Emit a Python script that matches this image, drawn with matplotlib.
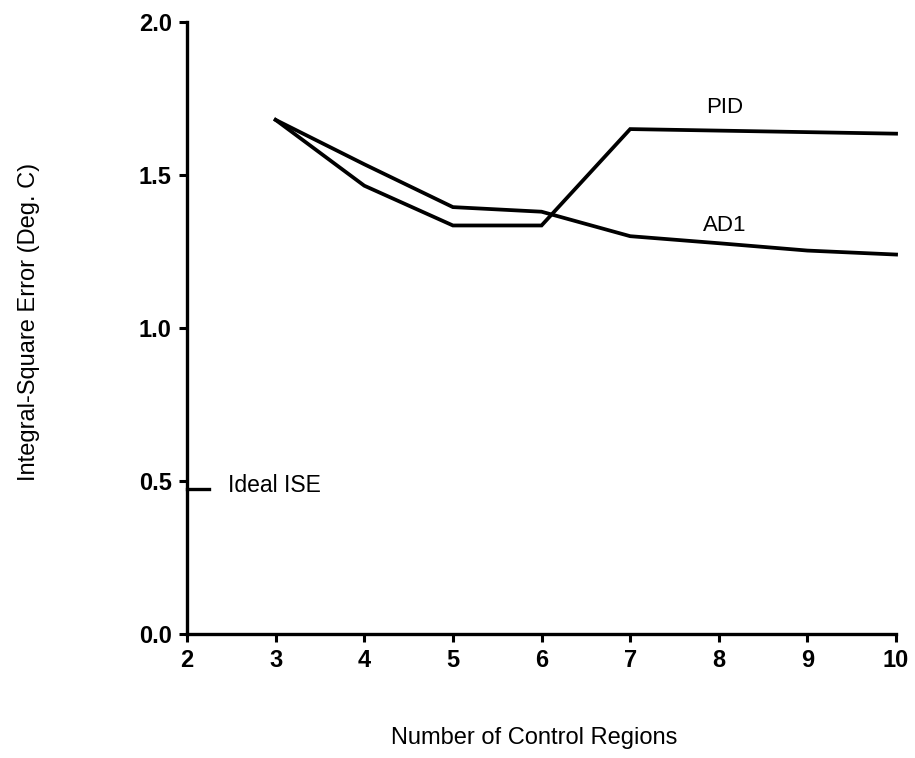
import numpy as np
import matplotlib
matplotlib.use('Agg')
import matplotlib.pyplot as plt

plt.rcParams['font.family'] = ['Liberation Sans', 'DejaVu Sans']

# number of control regions and integral-square error for each controller
regions = [3, 4, 5, 6, 7, 8, 9, 10]
ise_pid = [1.68, 1.465, 1.335, 1.335, 1.65, 1.645, 1.64, 1.635]
ise_ad1 = [1.68, 1.535, 1.395, 1.38, 1.30, 1.277, 1.253, 1.24]
ideal_ise = 0.475

x_ticks = [2, 3, 4, 5, 6, 7, 8, 9, 10]
y_ticks = [0.0, 0.5, 1.0, 1.5, 2.0]

fig = plt.figure(figsize=(9.15, 7.58), dpi=100)
ax = fig.add_axes([0.2044, 0.1636, 0.7749, 0.8074])

ax.plot(regions, ise_pid, color='black', lw=2.7, solid_joinstyle='miter', clip_on=False)
ax.plot(regions, ise_ad1, color='black', lw=2.7, solid_joinstyle='miter', clip_on=False)

# short mark for the ideal ISE level
ax.plot([2, 2.25], [ideal_ise, ideal_ise], color='black', lw=2.4, clip_on=False)
ax.text(2.46, ideal_ise + 0.01, 'Ideal ISE', fontsize=16.5, va='center', ha='left')

ax.text(8.07, 1.72, 'PID', fontsize=16, va='center', ha='center')
ax.text(8.07, 1.335, 'AD1', fontsize=16, va='center', ha='center')

ax.set_xlim(2, 10)
ax.set_ylim(0, 2)
ax.set_xticks(x_ticks)
ax.set_xticklabels([str(v) for v in x_ticks], fontsize=17, fontweight='bold')
ax.set_yticks(y_ticks)
ax.set_yticklabels(['%.1f' % v for v in y_ticks], fontsize=17, fontweight='bold')

for side in ['top', 'right']:
    ax.spines[side].set_visible(False)
for side in ['left', 'bottom']:
    ax.spines[side].set_linewidth(2.4)
    ax.spines[side].set_capstyle('projecting')
ax.tick_params(direction='out', length=6, width=2.2, pad=5, colors='black')

ax.set_xlabel('Number of Control Regions', fontsize=17)
ax.set_ylabel('Integral-Square Error (Deg. C)', fontsize=17)
ax.xaxis.set_label_coords(0.489, -0.152)
ax.yaxis.set_label_coords(-0.208, 0.51)

fig.savefig('out.png', dpi=100, facecolor='white')
